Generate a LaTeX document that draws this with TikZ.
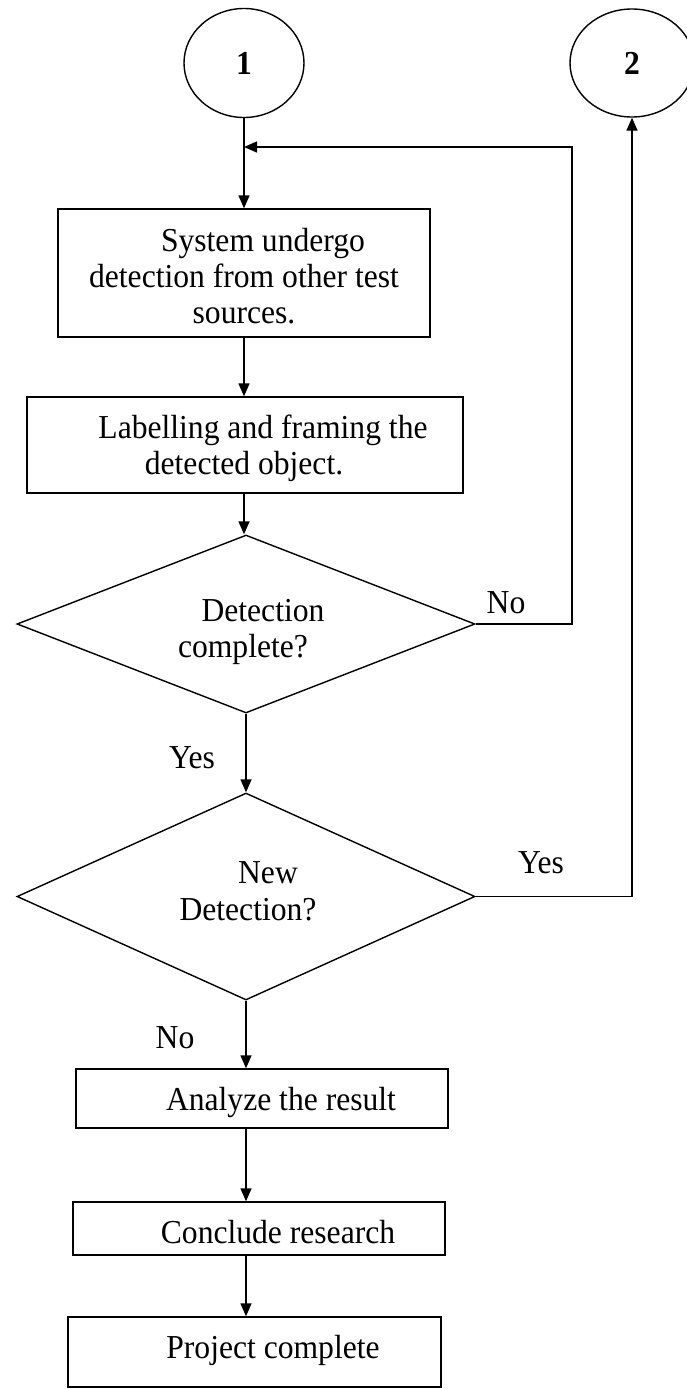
\documentclass[tikz,border=0pt]{standalone}
\usepackage{fontspec}
\setmainfont{Liberation Serif}
\usetikzlibrary{shapes.geometric,arrows.meta}
% slightly tall lettering
\newcommand{\tallt}[1]{\scalebox{1}[1.06]{#1}}
\begin{document}
\begin{tikzpicture}[x=1pt,y=-1pt,
  line width=1.4pt,
  every node/.style={font=\fontsize{31.6}{36}\selectfont},
  shp/.style={draw, inner sep=0pt, line width=1.4pt},
  box/.style={shp, rectangle},
  dec/.style={shp, diamond},
  conn/.style={shp, ellipse, font=\fontsize{31.6}{36}\selectfont\bfseries},
  txt/.style={anchor=base, inner sep=0pt},
  arr/.style={-{Triangle[length=13pt,width=11pt]}},
]
\useasboundingbox (0,0) rectangle (687,1389);

% connectors (off-page references)
\node[conn, minimum width=120pt, minimum height=109pt] (c1) at (244,63) {\tallt{1}};
\node[conn, minimum width=124pt, minimum height=108pt] (c2) at (632,63) {\tallt{2}};

% process boxes and decisions
\node[box, minimum width=372pt, minimum height=128pt] (b1) at (244,273) {};
\node[box, minimum width=436pt, minimum height=96pt]  (b2) at (245,445) {};
\node[dec, minimum width=458pt, minimum height=178pt] (d1) at (246,624) {};
\node[dec, minimum width=458pt, minimum height=207pt] (d2) at (246,896.5) {};
\node[box, minimum width=372pt, minimum height=59pt]  (b3) at (262,1098.5) {};
\node[box, minimum width=372pt, minimum height=53pt]  (b4) at (259,1228.5) {};
\node[box, minimum width=373pt, minimum height=70pt]  (b5) at (254.5,1352) {};

% texts inside the shapes
\node[txt] (t1a) at (263,251) {\tallt{System undergo}};
\node[txt] (t1b) at (244,287) {\tallt{detection from other test}};
\node[txt] (t1c) at (244,323) {\tallt{sources.}};
\node[txt] (t2a) at (263,438) {\tallt{Labelling and framing the}};
\node[txt] (t2b) at (244,474) {\tallt{detected object.}};
\node[txt] (q1a) at (263,621) {\tallt{Detection}};
\node[txt] (q1b) at (243,657) {\tallt{complete?}};
\node[txt] (q2a) at (268,883) {\tallt{New}};
\node[txt] (q2b) at (248,920) {\tallt{Detection?}};
\node[txt] (t3) at (281,1110) {\tallt{Analyze the result}};
\node[txt] (t4) at (278,1243) {\tallt{Conclude research}};
\node[txt] (t5) at (273,1358) {\tallt{Project complete}};

% branch labels
\node[txt] (lno1)  at (506,613)  {\tallt{No}};
\node[txt] (lyes1) at (192,768)  {\tallt{Yes}};
\node[txt] (lyes2) at (541,873)  {\tallt{Yes}};
\node[txt] (lno2)  at (175,1048) {\tallt{No}};

% helper points of the "No" loop
\coordinate (jn) at (244,147);
\coordinate (nr) at (572,147);

% main flow
\draw[arr] (c1.south) -- (c1.south |- b1.north);
\draw[arr] (b1.south) -- (b1.south |- b2.north);
\draw[arr] (b1.south |- b2.south) -- (b1.south |- d1.north);
\draw[arr] (d1.south) -- (d2.north);
\draw[arr] (d2.south) -- (d2.south |- b3.north);
\draw[arr] (d2.south |- b3.south) -- (d2.south |- b4.north);
\draw[arr] (d2.south |- b4.south) -- (d2.south |- b5.north);

% loops back
\draw[arr] (d1.east) -- (d1.east -| nr) -- (nr) -- (jn);
\draw[arr] (d2.east) -- (d2.east -| c2.south) -- (c2.south);
\end{tikzpicture}
\end{document}
